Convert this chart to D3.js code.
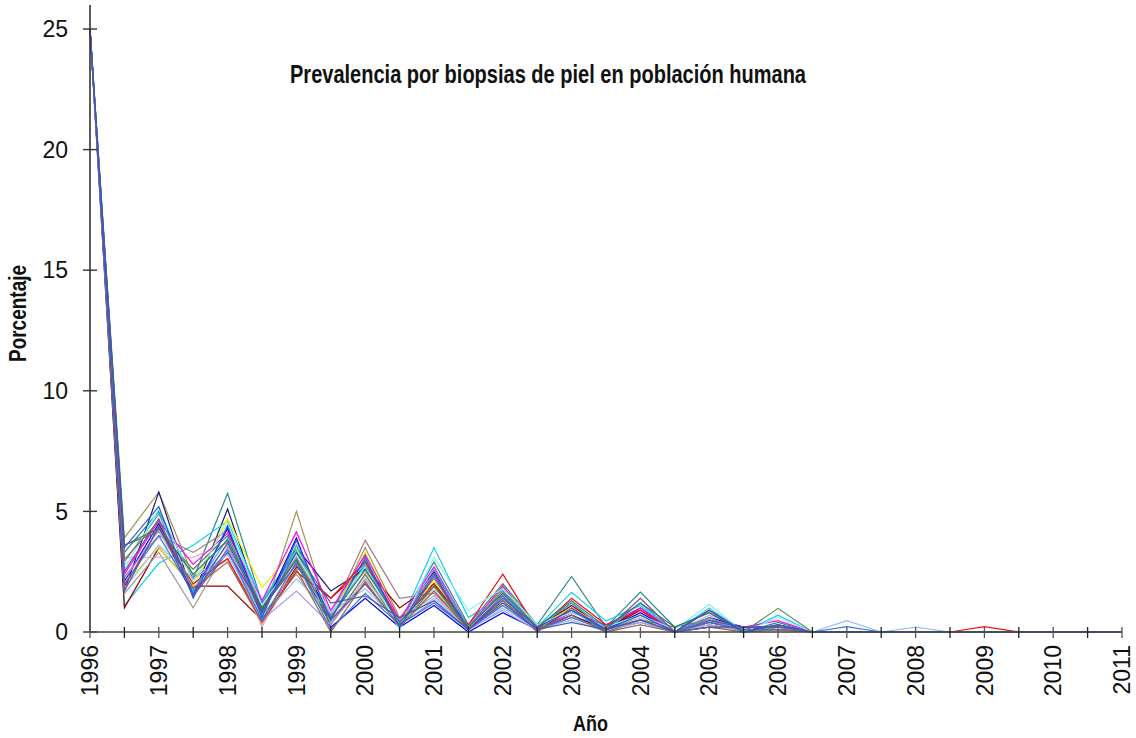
<!DOCTYPE html>
<html>
<head>
<meta charset="utf-8">
<script src="https://cdn.jsdelivr.net/npm/d3@7"></script>
<style>
  html, body { margin: 0; padding: 0; background: #fff; }
  svg { display: block; }
</style>
</head>
<body>
<svg id="chart" width="1136" height="738"></svg>
<script>
// Half-year positions from 1996 to 2011
const periods = d3.range(0, 31).map(i => 1996 + i / 2);
const yearLabels = ["1996","1997","1998","1999","2000","2001","2002","2003","2004","2005","2006","2007","2008","2009","2010","2011"];
const yTicks = [0, 5, 10, 15, 20, 25];

const seriesColors = [
  "#9a9450", "#1a1a80", "#2a8a8a", "#11ccee", "#990000", "#eeee00",
  "#999999", "#d0d0d0", "#aa7788", "#e0a0c0", "#ff00ff", "#0000ee",
  "#558844", "#ee1111", "#aa99ee", "#33aadd", "#88eeee", "#774499",
  "#99bbee", "#3377dd", "#996644", "#337766", "#3355dd", "#5058a8"
];

const s01 = [25, 3.9, 5.8, 2.3, 3.0, 0.6, 5.0, 0.5, 3.5, 0.6, 2.2, 0.2, 1.8, 0.3, 1.0, 0.1, 0.6, 0, 0.9, 0.1, 0.3, 0, 0, 0, 0, 0, 0, 0, 0, 0, 0];
const s02 = [25, 1.7, 5.8, 1.5, 5.1, 0.9, 3.5, 1.7, 2.6, 0.5, 2.5, 0.1, 1.9, 0.2, 1.2, 0.1, 1.0, 0, 0.5, 0.2, 0.2, 0, 0, 0, 0, 0, 0, 0, 0, 0, 0];
const s03 = [25, 3.3, 5.0, 2.2, 5.75, 1.2, 3.3, 0.8, 3.0, 0.4, 2.9, 0.3, 2.0, 0.3, 2.3, 0.2, 1.65, 0.2, 0.8, 0, 0.4, 0, 0, 0, 0, 0, 0, 0, 0, 0, 0];
const s04 = [25, 1.1, 2.85, 3.6, 4.6, 1.3, 3.4, 0.7, 2.9, 0.3, 3.5, 0.6, 1.5, 0.2, 1.65, 0.45, 1.1, 0, 1.0, 0, 0.7, 0, 0, 0, 0, 0, 0, 0, 0, 0, 0];
const s05 = [25, 1.0, 3.5, 1.9, 1.9, 0.5, 2.7, 1.4, 2.7, 1.0, 2.0, 0.2, 1.7, 0.2, 1.1, 0.1, 0.9, 0, 0.4, 0.1, 0.2, 0, 0, 0, 0, 0, 0, 0, 0, 0, 0];
const s06 = [25, 2.0, 3.5, 1.9, 4.7, 1.85, 3.5, 0.6, 3.3, 0.5, 2.1, 0.1, 1.9, 0.2, 1.0, 0.2, 0.7, 0, 0.6, 0, 0.3, 0, 0, 0, 0, 0, 0, 0, 0, 0, 0];
const s07 = [25, 1.6, 3.3, 1.0, 3.5, 0.7, 2.4, 0.4, 2.0, 0.3, 1.3, 0.05, 1.2, 0.1, 0.6, 0.05, 0.4, 0, 0.3, 0, 0.1, 0, 0, 0, 0, 0, 0, 0, 0, 0, 0];
const s08 = [25, 2.8, 3.9, 2.4, 3.0, 0.3, 2.6, 0.5, 2.3, 0.2, 1.8, 0.1, 1.1, 0.1, 1.3, 0, 0.6, 0, 0.2, 0, 0, 0, 0, 0, 0, 0, 0, 0, 0, 0, 0];
const s09 = [25, 2.3, 4.0, 3.3, 4.2, 1.0, 3.1, 0.7, 3.8, 1.4, 1.6, 0.2, 1.6, 0.2, 0.9, 0.1, 0.5, 0, 0.3, 0.1, 0.2, 0, 0, 0, 0, 0, 0, 0, 0, 0, 0];
const s10 = [25, 3.1, 3.1, 3.1, 3.7, 0.2, 2.9, 0.9, 2.5, 0.6, 2.4, 0.2, 1.4, 0.1, 0.7, 0.1, 0.5, 0, 0.7, 0, 0.2, 0, 0, 0, 0, 0, 0, 0, 0, 0, 0];
const s11 = [25, 2.4, 4.6, 2.8, 4.1, 1.3, 4.15, 0.9, 3.2, 0.5, 2.7, 0.2, 1.9, 0.1, 0.8, 0.3, 1.0, 0, 0.2, 0.2, 0.47, 0, 0, 0, 0, 0, 0, 0, 0, 0, 0];
const s12 = [25, 2.1, 4.5, 1.6, 4.3, 0.8, 3.9, 0.2, 1.4, 0.2, 1.1, 0, 0.8, 0.1, 0.7, 0.1, 0.8, 0, 0.6, 0.2, 0.1, 0, 0, 0, 0, 0, 0, 0, 0, 0, 0];
const s13 = [25, 3.6, 4.15, 2.6, 4.0, 0.9, 3.0, 0.3, 2.4, 0.2, 1.9, 0.1, 1.3, 0.1, 0.9, 0, 0.5, 0.2, 0.5, 0, 0.98, 0, 0, 0, 0, 0, 0, 0, 0, 0, 0];
const s14 = [25, 1.9, 4.3, 2.0, 3.05, 0.4, 2.5, 1.4, 2.9, 0.4, 2.0, 0.3, 2.4, 0.1, 1.4, 0.3, 0.9, 0, 0.9, 0, 0.3, 0, 0, 0, 0, 0, 0.22, 0, 0, 0, 0];
const s15 = [25, 2.2, 4.2, 1.8, 3.6, 0.5, 1.7, 0.3, 2.2, 0.5, 1.5, 0.1, 0.9, 0.05, 0.6, 0.1, 0.4, 0, 0.5, 0, 0.2, 0, 0, 0, 0, 0, 0, 0, 0, 0, 0];
const s16 = [25, 2.9, 4.9, 1.7, 3.9, 0.7, 3.6, 0.6, 2.8, 0.3, 2.6, 0.2, 1.7, 0.2, 1.2, 0.1, 1.2, 0, 0.6, 0, 0.2, 0, 0, 0, 0, 0, 0, 0, 0, 0, 0];
const s17 = [25, 2.6, 5.1, 2.1, 4.5, 1.1, 3.2, 0.8, 2.7, 0.1, 3.1, 0.9, 1.8, 0.3, 0.8, 0.2, 0.7, 0.1, 1.15, 0, 0.6, 0, 0, 0, 0, 0, 0, 0, 0, 0, 0];
const s18 = [25, 2.5, 4.7, 1.5, 3.3, 1.0, 2.8, 0.5, 2.0, 0.3, 2.4, 0.1, 1.5, 0, 1.0, 0.1, 1.4, 0, 0.47, 0.2, 0.22, 0, 0, 0, 0, 0, 0, 0, 0, 0, 0];
const s19 = [25, 1.8, 3.6, 2.2, 3.2, 0.6, 2.2, 0.8, 1.8, 0.4, 1.4, 0.05, 1.0, 0.1, 0.5, 0, 0.3, 0, 0.3, 0, 0.1, 0, 0.47, 0, 0.2, 0, 0, 0, 0, 0, 0];
const s20 = [25, 2.0, 4.0, 1.6, 3.4, 0.5, 2.9, 0.1, 1.6, 0.3, 1.2, 0.1, 1.1, 0.1, 0.6, 0.1, 0.5, 0, 0.4, 0.1, 0.1, 0, 0.22, 0, 0, 0, 0, 0, 0, 0, 0];
const s21 = [25, 3.0, 4.6, 1.8, 2.9, 0.4, 2.6, 0.0, 2.1, 0.2, 1.7, 0.1, 1.3, 0.1, 0.7, 0, 0.3, 0, 0.2, 0, 0.1, 0, 0, 0, 0, 0, 0, 0, 0, 0, 0];
const s22 = [25, 3.6, 4.3, 2.4, 3.8, 1.0, 3.0, 0.6, 2.6, 0.4, 1.9, 0.2, 1.6, 0.2, 1.3, 0.2, 1.2, 0.2, 0.8, 0, 0.3, 0, 0, 0, 0, 0, 0, 0, 0, 0, 0];
const s23 = [25, 3.5, 5.2, 1.4, 4.4, 0.6, 3.8, 0.5, 3.1, 0.2, 2.3, 0.1, 1.4, 0.2, 0.9, 0.1, 0.7, 0, 0.9, 0, 0.3, 0, 0, 0, 0, 0, 0, 0, 0, 0, 0];
const s24 = [25, 1.7, 4.4, 1.5, 3.7, 0.8, 3.3, 1.2, 1.5, 0.6, 1.3, 0.1, 1.2, 0.1, 0.4, 0.1, 0.5, 0, 0.2, 0.2, 0.22, 0, 0, 0, 0, 0, 0, 0, 0, 0, 0];

const seriesValues = [s01, s02, s03, s04, s05, s06, s07, s08, s09, s10, s11, s12,
                      s13, s14, s15, s16, s17, s18, s19, s20, s21, s22, s23, s24];

const titleText = "Prevalencia por biopsias de piel en población humana";
const xTitle = "Año";
const yTitle = "Porcentaje";

const svg = d3.select("#chart");
const mLeft = 90, mRight = 1122, mTop = 5, mBottom = 632;

const x = d3.scaleLinear().domain([1996, 2011]).range([mLeft, mRight]);
const y = d3.scaleLinear().domain([0, 25]).range([mBottom, 29]);

const fontNum = "'Liberation Sans', Arial, Helvetica, sans-serif";
const fontBold = "'Liberation Sans', Arial, sans-serif";

// Lines
const line = d3.line().x((d, i) => x(periods[i])).y(d => y(d));
svg.append("g").selectAll("path")
  .data(seriesValues)
  .join("path")
  .attr("d", d => line(d))
  .attr("fill", "none")
  .attr("stroke", (d, i) => seriesColors[i])
  .attr("stroke-width", 1.2)
  .attr("stroke-linejoin", "miter");

// Y axis
const gy = svg.append("g");
gy.append("line").attr("x1", mLeft).attr("x2", mLeft).attr("y1", mTop).attr("y2", mBottom)
  .attr("stroke", "#333").attr("stroke-width", 1.6);
gy.selectAll("line.tick").data(yTicks).join("line").attr("class", "tick")
  .attr("x1", mLeft - 7).attr("x2", mLeft + 7)
  .attr("y1", d => y(d)).attr("y2", d => y(d))
  .attr("stroke", "#333").attr("stroke-width", 1.4);
gy.selectAll("text").data(yTicks).join("text")
  .attr("x", 68).attr("y", d => y(d))
  .attr("dy", "0.36em")
  .attr("text-anchor", "end")
  .attr("font-family", fontNum).attr("font-size", 23).attr("fill", "#111")
  .text(d => d);

// X axis
const gx = svg.append("g");
gx.append("line").attr("x1", mLeft).attr("x2", mRight).attr("y1", mBottom).attr("y2", mBottom)
  .attr("stroke", "#444").attr("stroke-width", 1.6);
gx.selectAll("line.tick").data(periods).join("line").attr("class", "tick")
  .attr("x1", d => x(d)).attr("x2", d => x(d))
  .attr("y1", mBottom - 5).attr("y2", mBottom + 6)
  .attr("stroke", (d, i) => i % 2 ? "#222" : "#555").attr("stroke-width", 1.3);
gx.selectAll("text").data(yearLabels).join("text")
  .attr("transform", d => `translate(${x(+d)},645) rotate(-90)`)
  .attr("dy", "0.36em")
  .attr("text-anchor", "end")
  .attr("font-family", fontNum).attr("font-size", 23).attr("fill", "#111")
  .text(d => d);

// Titles
svg.append("text")
  .attr("x", 290).attr("y", 83)
  .attr("textLength", 516).attr("lengthAdjust", "spacingAndGlyphs")
  .attr("font-family", fontBold).attr("font-weight", "bold").attr("font-size", 25)
  .attr("fill", "#111")
  .text(titleText);

svg.append("text")
  .attr("x", 573).attr("y", 731)
  .attr("textLength", 35).attr("lengthAdjust", "spacingAndGlyphs")
  .attr("font-family", fontBold).attr("font-weight", "bold").attr("font-size", 22)
  .attr("fill", "#111")
  .text(xTitle);

svg.append("text")
  .attr("transform", "translate(26,362) rotate(-90)")
  .attr("textLength", 97).attr("lengthAdjust", "spacingAndGlyphs")
  .attr("font-family", fontBold).attr("font-weight", "bold").attr("font-size", 23)
  .attr("fill", "#111")
  .text(yTitle);
</script>
</body>
</html>
